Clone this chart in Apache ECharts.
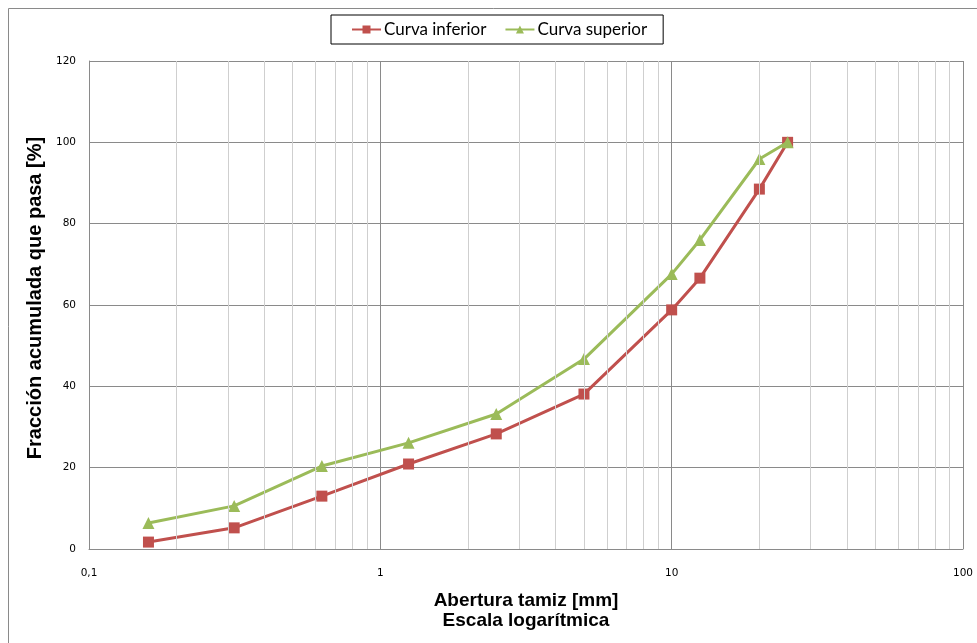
<!DOCTYPE html>
<html>
<head>
<meta charset="utf-8">
<script src="https://cdn.jsdelivr.net/npm/echarts@6/dist/echarts.min.js"></script>
<style>
  html, body { margin: 0; padding: 0; background: #fff; }
  #chart { width: 977px; height: 643px; }
</style>
</head>
<body>
<div id="chart"></div>
<script>
// Sieve openings (mm) and cumulative passing (%) for the grading envelope
const sieves = [0.16, 0.315, 0.63, 1.25, 2.5, 5, 10, 12.5, 20, 25];
const lowerCurve = [1.7, 5.2, 13.0, 20.9, 28.3, 38.1, 58.8, 66.6, 88.5, 100];
const upperCurve = [6.4, 10.6, 20.4, 26.1, 33.2, 46.7, 67.6, 76.0, 95.9, 100];
const seriesNames = ['Curva inferior', 'Curva superior'];
// Intermediate log gridlines between decades
const minorGrid = [0.2, 0.3, 0.4, 0.5, 0.6, 0.7, 0.8, 0.9,
                   2, 3, 4, 5, 6, 7, 8, 9,
                   20, 30, 40, 50, 60, 70, 80, 90];

const pairs = (xs, ys) => xs.map((x, i) => [x, ys[i]]);

const chart = echarts.init(document.getElementById('chart'));
chart.setOption({
  animation: false,
  backgroundColor: '#fff',
  graphic: [{
    type: 'rect',
    shape: { x: 8.5, y: 8.5, width: 1200, height: 1200 },
    style: { fill: 'none', stroke: '#8a8a8a', lineWidth: 1 },
    silent: true
  }],
  legend: {
    data: seriesNames,
    left: 331,
    top: 15,
    borderColor: '#000',
    borderWidth: 1,
    padding: [6, 16, 6, 20],
    itemGap: 18,
    itemWidth: 29,
    itemHeight: 10,
    textStyle: { fontFamily: 'Lato', fontSize: 17, color: '#000', padding: [0, 0, 0, -2] }
  },
  grid: { left: 89, top: 61, right: 14, bottom: 94, containLabel: false },
  xAxis: {
    type: 'log',
    logBase: 10,
    min: 0.1,
    max: 100,
    name: 'Abertura tamiz [mm]\nEscala logarítmica',
    nameLocation: 'middle',
    nameGap: 42,
    nameTextStyle: { fontFamily: 'Liberation Sans', fontWeight: 'bold', fontSize: 19, color: '#000', lineHeight: 20 },
    axisLine: { show: true, lineStyle: { color: '#8a8a8a' } },
    axisTick: { show: false },
    axisLabel: {
      fontFamily: 'DejaVu Sans', fontSize: 10.5, color: '#000', margin: 19,
      formatter: v => String(v).replace('.', ',')
    },
    splitLine: { show: true, lineStyle: { color: '#8a8a8a', width: 1 } }
  },
  yAxis: {
    type: 'value',
    min: 0,
    max: 120,
    interval: 20,
    name: 'Fracción acumulada que pasa [%]',
    nameLocation: 'middle',
    nameRotate: 90,
    nameGap: 41,
    nameTextStyle: { fontFamily: 'Liberation Sans', fontWeight: 'bold', fontSize: 20, color: '#000', padding: [0, 0, 0, 14] },
    axisLine: { show: true, lineStyle: { color: '#8a8a8a' } },
    axisTick: { show: false },
    axisLabel: { fontFamily: 'DejaVu Sans', fontSize: 10.5, color: '#000', margin: 13 },
    splitLine: { show: true, lineStyle: { color: '#8a8a8a', width: 1 } }
  },
  series: [
    {
      name: 'minor-grid',
      type: 'line',
      data: [],
      z: 1,
      silent: true,
      markLine: {
        silent: true,
        symbol: 'none',
        label: { show: false },
        lineStyle: { color: '#cfcfcf', width: 1, type: 'solid' },
        data: minorGrid.map(v => ({ xAxis: v }))
      }
    },
    {
      name: seriesNames[0],
      type: 'line',
      data: pairs(sieves, lowerCurve),
      z: 3,
      color: '#C0504D',
      lineStyle: { width: 3, color: '#C0504D' },
      symbol: 'rect',
      symbolSize: 11,
      itemStyle: { color: '#C0504D' }
    },
    {
      name: seriesNames[1],
      type: 'line',
      data: pairs(sieves, upperCurve),
      z: 4,
      color: '#9BBB59',
      lineStyle: { width: 3, color: '#9BBB59' },
      symbol: 'triangle',
      symbolSize: 12,
      itemStyle: { color: '#9BBB59' }
    }
  ]
});
</script>
</body>
</html>
